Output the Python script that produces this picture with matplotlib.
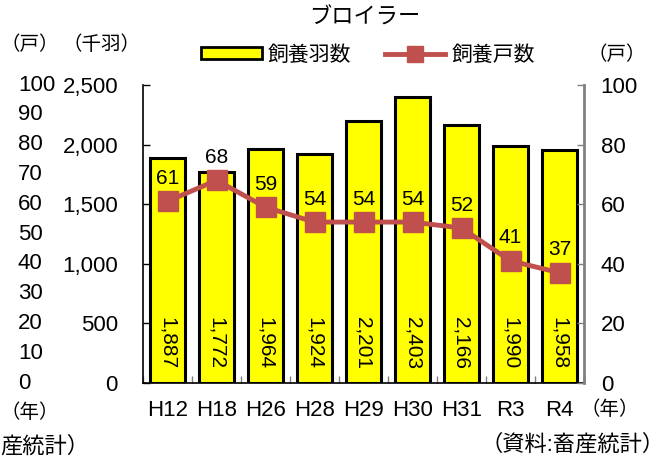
import matplotlib.pyplot as plt
from matplotlib.ticker import FuncFormatter
from matplotlib.transforms import blended_transform_factory

plt.rcParams['font.family'] = ['Liberation Sans', 'Noto Sans CJK JP']

years = ['H12', 'H18', 'H26', 'H28', 'H29', 'H30', 'H31', 'R3', 'R4']
birds = [1887, 1772, 1964, 1924, 2201, 2403, 2166, 1990, 1958]  # 千羽
farms = [61, 68, 59, 54, 54, 54, 52, 41, 37]  # 戸
left_ticks = [0, 500, 1000, 1500, 2000, 2500]
right_ticks = [0, 20, 40, 60, 80, 100]
extra_ticks = [0, 10, 20, 30, 40, 50, 60, 70, 80, 90, 100]

red = '#C0504D'

fig = plt.figure(figsize=(6.72, 4.61), dpi=100)
ax = fig.add_axes([143/672, 1-383/461, (584-143)/672, (383-85)/461])
ax2 = ax.twinx()

x = range(len(years))
ax.bar(x, birds, width=0.72, color='#FFFF00', edgecolor='black', linewidth=2.2, zorder=2)
for i, v in enumerate(birds):
    ax.text(i, 550, f'{v:,}', rotation=270, ha='center', va='top', fontsize=15)

ax.set_xlim(-0.5, len(years)-0.5)
ax.set_ylim(0, 2500)
ax.set_yticks(left_ticks)
ax.yaxis.set_major_formatter(FuncFormatter(lambda v, p: f'{int(v):,}'))
ax.tick_params(axis='y', direction='in', length=5, width=1, pad=18, labelsize=16)
ax.set_xticks(list(x))
ax.set_xticklabels(years)
ax.tick_params(axis='x', which='major', length=0, pad=12, labelsize=16)
ax.set_xticks([i-0.5 for i in range(len(years)+1)], minor=True)
ax.tick_params(axis='x', which='minor', direction='in', length=5, width=1, color='#808080')
ax.spines['top'].set_visible(False)
ax.spines['right'].set_visible(False)
ax.spines['left'].set_linewidth(1.2)
ax.spines['bottom'].set_linewidth(1.2)

ax2.plot(x, farms, color=red, linewidth=3.5, marker='s', markersize=15, zorder=3)
for i, v in enumerate(farms):
    ax2.text(i, v+4.5, str(v), ha='center', va='bottom', fontsize=15)
ax2.set_ylim(0, 100)
ax2.set_yticks(right_ticks)
ax2.tick_params(axis='y', direction='in', length=5, width=1, color='#808080', pad=12, labelsize=16)
ax2.spines['top'].set_visible(False)
ax2.spines['left'].set_visible(False)
ax2.spines['bottom'].set_visible(False)
ax2.spines['right'].set_color('#808080')
ax2.spines['right'].set_linewidth(2)

# 左端に残っている目盛り列
tr = blended_transform_factory(fig.transFigure, ax2.transData)
for t in extra_ticks:
    ax2.text(18/672, t, str(t), transform=tr, ha='left', va='center', fontsize=16)

fig.text(365/672, 1-18/461, 'ブロイラー', ha='center', va='center', fontsize=16)
fig.text(0, 1-45/461, '（戸）', ha='left', va='center', fontsize=14)
fig.text(101/672, 1-45/461, '（千羽）', ha='center', va='center', fontsize=14)
fig.text(617/672, 1-55/461, '（戸）', ha='center', va='center', fontsize=14)
fig.text(0, 1-413/461, '（年）', ha='left', va='center', fontsize=14)
fig.text(610/672, 1-410/461, '（年）', ha='center', va='center', fontsize=14)
fig.text(0, 1-447/461, '産統計）', ha='left', va='center', fontsize=16)
fig.text(665/672, 1-445/461, '（資料:畜産統計）', ha='right', va='center', fontsize=16)

h1 = plt.Rectangle((0, 0), 1, 1, facecolor='#FFFF00', edgecolor='black', linewidth=2)
h2, = ax2.plot([], [], color=red, linewidth=3.5, marker='s', markersize=11)
fig.legend([h1, h2], ['飼養羽数', '飼養戸数'], ncol=2, frameon=False,
           loc='center', bbox_to_anchor=(368/672, 1-55/461), fontsize=15,
           handlelength=2.9, handleheight=0.5, columnspacing=1.6, handletextpad=0.3)

fig.savefig('out.png', dpi=100)
